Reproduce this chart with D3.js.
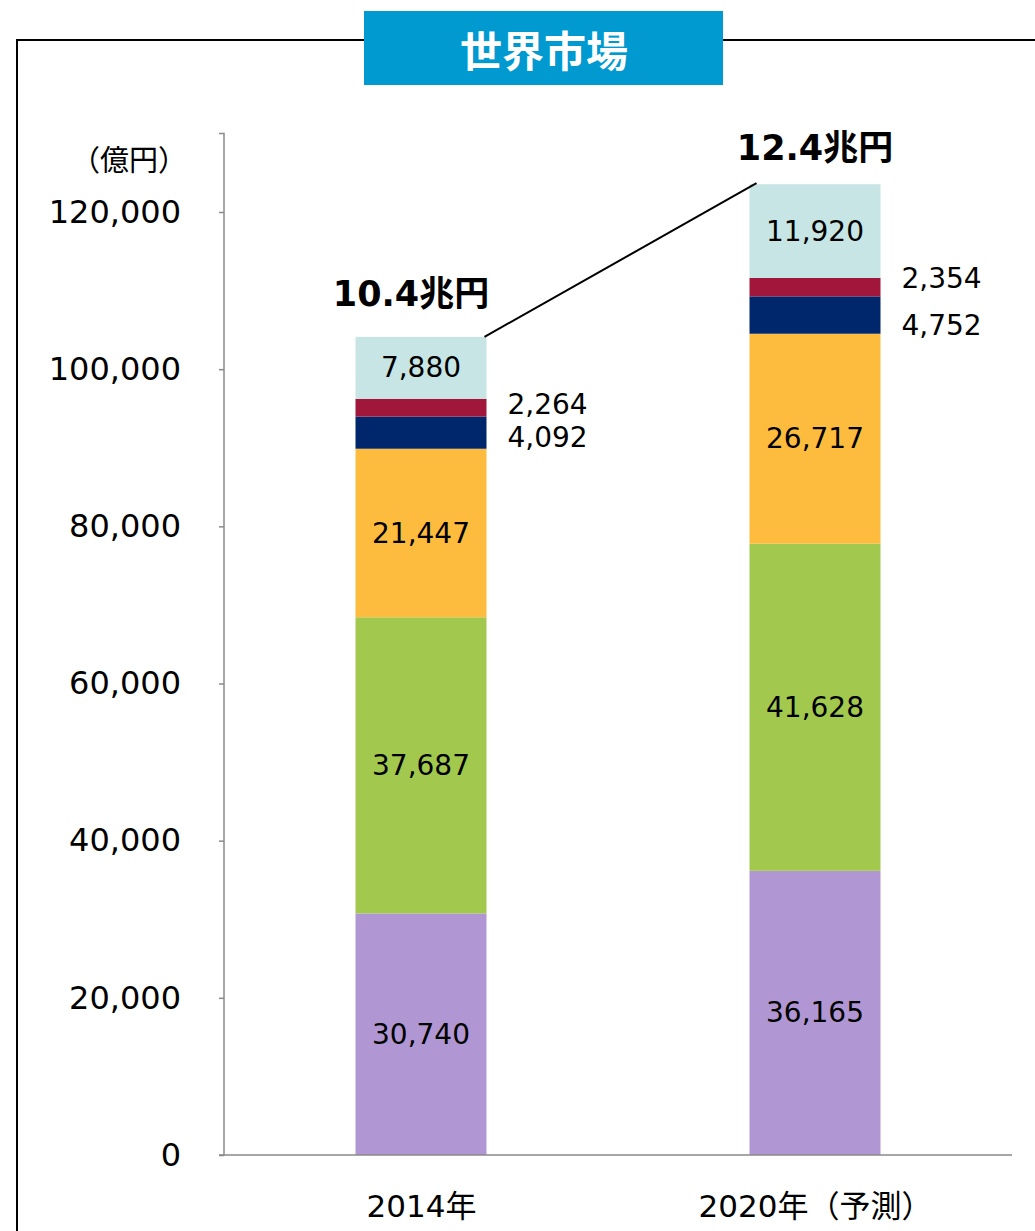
<!DOCTYPE html>
<html lang="ja">
<head>
<meta charset="UTF-8">
<title>世界市場</title>
<script src="https://d3js.org/d3.v7.min.js"></script>
<style>
  body { margin: 0; background: #fff; }
  svg { display: block; }
  text { font-family: "DejaVu Sans", "Noto Sans CJK JP", sans-serif; }
</style>
</head>
<body>
<div id="chart"></div>
<script>
// categories (x axis)
var categories = ["2014年", "2020年（予測）"];

// segments, bottom to top
var seriesNames = ["s1", "s2", "s3", "s4", "s5", "s6"];
var seriesColors = ["#B097D4", "#A2C94E", "#FDBC3D", "#00266C", "#A0173B", "#C6E5E4"];
var s1 = [30740, 36165];
var s2 = [37687, 41628];
var s3 = [21447, 26717];
var s4 = [4092, 4752];
var s5 = [2264, 2354];
var s6 = [7880, 11920];

// totals shown above bars
var totalLabels = ["10.4兆円", "12.4兆円"];

var yTicks = [0, 20000, 40000, 60000, 80000, 100000, 120000];
var unitLabel = "（億円）";
var titleText = "世界市場";

var W = 1035, H = 1231;
var svg = d3.select("#chart").append("svg")
    .attr("width", W)
    .attr("height", H);

// frame around the chart
svg.append("path")
    .attr("d", "M17,1231V40H364M723,40H1035")
    .attr("fill", "none")
    .attr("stroke", "#000")
    .attr("stroke-width", 2);

// title box
svg.append("rect")
    .attr("x", 364).attr("y", 11)
    .attr("width", 359).attr("height", 74)
    .attr("fill", "#0099D0");
svg.append("text")
    .attr("x", 544).attr("y", 48)
    .attr("text-anchor", "middle")
    .attr("dominant-baseline", "central")
    .attr("fill", "#fff")
    .style("font-family", "'Noto Sans CJK JP', sans-serif")
    .style("font-weight", "bold")
    .style("font-size", "42px")
    .text(titleText);

var x = d3.scalePoint()
    .domain(categories)
    .range([224, 1012])
    .padding(0.5);
var barW = 131;

var y = d3.scaleLinear()
    .domain([0, 120000])
    .range([1155, 212]);

// stack the data
var rows = categories.map(function(c, i) {
    return { cat: c, s1: s1[i], s2: s2[i], s3: s3[i], s4: s4[i], s5: s5[i], s6: s6[i] };
});
var stacked = d3.stack().keys(seriesNames)(rows);

// y axis
var yAxis = svg.append("g")
    .attr("transform", "translate(224,0)")
    .call(d3.axisLeft(y).tickValues(yTicks).tickSize(5).tickPadding(38)
        .tickFormat(d3.format(",")));
yAxis.select(".domain").attr("stroke", "#8a8a8a").attr("stroke-width", 1.5)
    .attr("d", "M-5,133.5H0V1155H-5");
yAxis.selectAll(".tick line").attr("stroke", "#8a8a8a").attr("stroke-width", 1.5);
yAxis.selectAll(".tick text")
    .attr("fill", "#000")
    .style("font-family", "'DejaVu Sans', sans-serif")
    .style("font-size", "32px");

// unit label
svg.append("text")
    .attr("x", 129).attr("y", 158)
    .attr("text-anchor", "middle")
    .attr("dominant-baseline", "central")
    .style("font-size", "29px")
    .style("font-family", "'Noto Sans CJK JP', sans-serif")
    .text(unitLabel);

// bars
var layers = svg.append("g").selectAll("g")
    .data(stacked)
    .join("g")
    .attr("fill", function(d, i) { return seriesColors[i]; });

layers.selectAll("rect")
    .data(function(d) { return d; })
    .join("rect")
    .attr("x", function(d) { return x(d.data.cat) - barW / 2; })
    .attr("width", barW)
    .attr("y", function(d) { return y(d[1]); })
    .attr("height", function(d) { return y(d[0]) - y(d[1]); });

// x axis
var xAxis = svg.append("g")
    .attr("transform", "translate(0,1155)")
    .call(d3.axisBottom(x).tickSize(0).tickPadding(40));
xAxis.select(".domain").attr("stroke", "#8a8a8a").attr("stroke-width", 1.5)
    .attr("d", "M224,0H1012");
xAxis.selectAll(".tick text")
    .attr("fill", "#000")
    .style("font-family", "'DejaVu Sans', 'Noto Sans CJK JP', sans-serif")
    .style("font-size", "31px");

// value labels: thin segments (index 3,4) outside to the right
var fmt = d3.format(",");
var outsideNudge = { "3": [5, 10], "4": [-3, -9] };
stacked.forEach(function(layer, li) {
    layer.forEach(function(d, ci) {
        var mid = (y(d[0]) + y(d[1])) / 2;
        var outside = outsideNudge[li] !== undefined;
        svg.append("text")
            .attr("x", outside ? x(d.data.cat) + barW / 2 + 21 : x(d.data.cat))
            .attr("y", outside ? mid + outsideNudge[li][ci] : mid)
            .attr("text-anchor", outside ? "start" : "middle")
            .attr("dominant-baseline", "central")
            .style("font-size", "28px")
            .attr("fill", "#000")
            .text(fmt(d[1] - d[0]));
    });
});

// totals
var topVals = stacked[stacked.length - 1].map(function(d) { return d[1]; });
var totalOffset = [31, 24];
svg.selectAll(".total")
    .data(categories)
    .join("text")
    .attr("class", "total")
    .attr("x", function(d, i) { return x(d) - (i === 0 ? 10 : 0); })
    .attr("y", function(d, i) { return y(topVals[i]) - totalOffset[i]; })
    .attr("text-anchor", "middle")
    .style("font-size", "35px")
    .style("font-weight", "bold")
    .text(function(d, i) { return totalLabels[i]; });

// connector line between bar tops
svg.append("line")
    .attr("x1", x(categories[0]) + barW / 2 - 2)
    .attr("y1", y(topVals[0]))
    .attr("x2", x(categories[1]) - barW / 2 + 7)
    .attr("y2", y(topVals[1]) - 1)
    .attr("stroke", "#000")
    .attr("stroke-width", 2);
</script>
</body>
</html>
